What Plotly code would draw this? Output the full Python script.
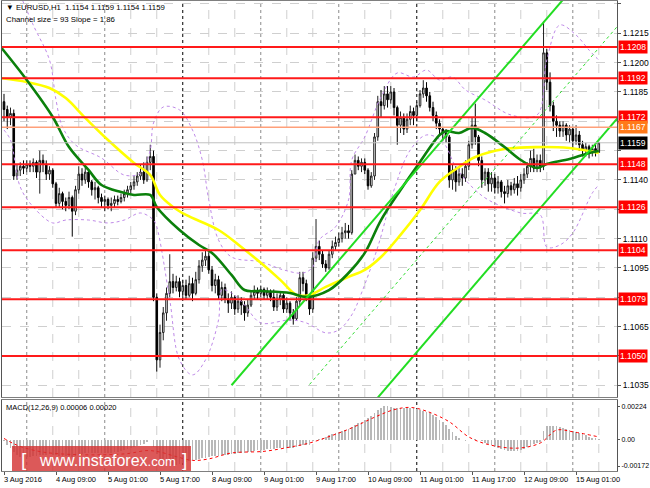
import plotly.graph_objects as go

# ---------------- data ----------------
bar_index = list(range(184))

closes = [
    1.1176, 1.1172, 1.1174, 1.1142, 1.1145, 1.1147, 1.1146, 1.1148, 1.1147, 1.1149,
    1.1144, 1.1150, 1.1148, 1.1143, 1.1145, 1.1138, 1.1128, 1.1133, 1.1129, 1.1127,
    1.1131, 1.1124, 1.1135, 1.1143, 1.1140, 1.1144, 1.1139, 1.1135, 1.1136, 1.1131,
    1.1129, 1.1130, 1.1127, 1.1128, 1.1130, 1.1129, 1.1131, 1.1133, 1.1135, 1.1137,
    1.1139, 1.1142, 1.1144, 1.1140, 1.1149, 1.1152, 1.1080, 1.1048, 1.1062, 1.1072,
    1.1082, 1.1088, 1.1085, 1.1088, 1.1083, 1.1086, 1.1081, 1.1087, 1.1082, 1.1089,
    1.1096, 1.1099, 1.1101, 1.1094, 1.1086, 1.1089, 1.1081, 1.1085, 1.1079, 1.1077,
    1.1080, 1.1074, 1.1078, 1.1076, 1.1072, 1.1076, 1.1081, 1.1083, 1.1082, 1.1084,
    1.1081, 1.1083, 1.1080, 1.1075, 1.1079, 1.1081, 1.1074, 1.1077, 1.1072, 1.1069,
    1.1078, 1.1090, 1.1087, 1.1080, 1.1074, 1.1100, 1.1106, 1.1102, 1.1097, 1.1095,
    1.1102, 1.1106, 1.1108, 1.1110, 1.1113, 1.1114, 1.1113, 1.1143, 1.1150, 1.1147,
    1.1149, 1.1145, 1.1137, 1.1142, 1.1162, 1.1180, 1.1178, 1.1184, 1.1181, 1.1185,
    1.1177, 1.1168, 1.1172, 1.1166, 1.1171, 1.1175, 1.1173, 1.1178, 1.1184, 1.1187,
    1.1183, 1.1177, 1.1173, 1.1169, 1.1166, 1.1164, 1.1162, 1.1140, 1.1145, 1.1139,
    1.1143, 1.1141, 1.1147, 1.1158, 1.1168, 1.1162, 1.1150, 1.1140, 1.1144, 1.1138,
    1.1141, 1.1136, 1.1139, 1.1134, 1.1133, 1.1137, 1.1135, 1.1138, 1.1136, 1.1140,
    1.1143, 1.1147, 1.1151, 1.1146, 1.1150, 1.1147, 1.1205, 1.1190, 1.1178, 1.1170,
    1.1168, 1.1165, 1.1168, 1.1163, 1.1166, 1.1160, 1.1163, 1.1158, 1.1155, 1.1157,
    1.1154, 1.1156, 1.1154, 1.1159,
]

highs = [
    1.1184, 1.1178, 1.1177, 1.1176, 1.1148, 1.1149, 1.1150, 1.1150, 1.1150, 1.1151,
    1.1150, 1.1155, 1.1153, 1.1150, 1.1147, 1.1146, 1.1139, 1.1136, 1.1134, 1.1131,
    1.1134, 1.1132, 1.1137, 1.1147, 1.1146, 1.1147, 1.1145, 1.1140, 1.1139, 1.1137,
    1.1133, 1.1132, 1.1131, 1.1131, 1.1132, 1.1132, 1.1133, 1.1135, 1.1137, 1.1139,
    1.1142, 1.1144, 1.1148, 1.1149, 1.1152, 1.1158, 1.1155, 1.1082, 1.1066, 1.1075,
    1.1085, 1.1102, 1.1092, 1.1091, 1.1090, 1.1089, 1.1089, 1.1091, 1.1090, 1.1093,
    1.1099, 1.1103, 1.1104, 1.1103, 1.1096, 1.1092, 1.1091, 1.1088, 1.1087, 1.1082,
    1.1083, 1.1081, 1.1081, 1.1080, 1.1078, 1.1079, 1.1083, 1.1086, 1.1085, 1.1086,
    1.1085, 1.1085, 1.1084, 1.1084, 1.1082, 1.1083, 1.1082, 1.1080, 1.1078, 1.1074,
    1.1080, 1.1093, 1.1093, 1.1089, 1.1081, 1.1103, 1.1120, 1.1109, 1.1104, 1.1099,
    1.1104, 1.1109, 1.1111, 1.1113, 1.1116, 1.1118, 1.1117, 1.1145, 1.1153, 1.1152,
    1.1151, 1.1151, 1.1146, 1.1144, 1.1164, 1.1183, 1.1186, 1.1188, 1.1188, 1.1188,
    1.1187, 1.1178, 1.1175, 1.1174, 1.1174, 1.1178, 1.1177, 1.1180, 1.1186, 1.1191,
    1.1190, 1.1185, 1.1180, 1.1175, 1.1171, 1.1167, 1.1166, 1.1163, 1.1148, 1.1147,
    1.1147, 1.1146, 1.1150, 1.1160, 1.1172, 1.1179, 1.1163, 1.1152, 1.1146, 1.1146,
    1.1144, 1.1143, 1.1142, 1.1140, 1.1137, 1.1140, 1.1139, 1.1141, 1.1142, 1.1143,
    1.1146, 1.1149, 1.1155, 1.1156, 1.1153, 1.1153, 1.1221, 1.1207, 1.1195, 1.1180,
    1.1173, 1.1170, 1.1170, 1.1169, 1.1168, 1.1167, 1.1168, 1.1165, 1.1160, 1.1159,
    1.1158, 1.1158, 1.1158, 1.1159,
]

lows = [
    1.1170, 1.1166, 1.1168, 1.1140, 1.1140, 1.1142, 1.1143, 1.1144, 1.1144, 1.1144,
    1.1141, 1.1133, 1.1144, 1.1140, 1.1140, 1.1136, 1.1126, 1.1126, 1.1125, 1.1124,
    1.1125, 1.1111, 1.1122, 1.1133, 1.1137, 1.1138, 1.1136, 1.1132, 1.1130, 1.1128,
    1.1126, 1.1124, 1.1125, 1.1124, 1.1126, 1.1127, 1.1128, 1.1129, 1.1131, 1.1133,
    1.1135, 1.1137, 1.1140, 1.1138, 1.1139, 1.1145, 1.1078, 1.1042, 1.1044, 1.1058,
    1.1068, 1.1080, 1.1082, 1.1083, 1.1080, 1.1079, 1.1079, 1.1080, 1.1078, 1.1081,
    1.1087, 1.1093, 1.1096, 1.1092, 1.1083, 1.1082, 1.1079, 1.1078, 1.1077, 1.1072,
    1.1074, 1.1071, 1.1072, 1.1071, 1.1068, 1.1070, 1.1075, 1.1079, 1.1079, 1.1080,
    1.1079, 1.1079, 1.1078, 1.1073, 1.1073, 1.1076, 1.1072, 1.1072, 1.1068, 1.1066,
    1.1068, 1.1076, 1.1083, 1.1078, 1.1071, 1.1072, 1.1098, 1.1099, 1.1095, 1.1093,
    1.1094, 1.1100, 1.1104, 1.1106, 1.1108, 1.1110, 1.1110, 1.1112, 1.1143, 1.1145,
    1.1144, 1.1143, 1.1135, 1.1136, 1.1140, 1.1160, 1.1172, 1.1176, 1.1177, 1.1179,
    1.1173, 1.1158, 1.1164, 1.1163, 1.1164, 1.1168, 1.1168, 1.1170, 1.1177, 1.1182,
    1.1180, 1.1175, 1.1170, 1.1166, 1.1163, 1.1160, 1.1159, 1.1136, 1.1135, 1.1134,
    1.1137, 1.1137, 1.1139, 1.1145, 1.1156, 1.1158, 1.1147, 1.1136, 1.1137, 1.1134,
    1.1134, 1.1133, 1.1133, 1.1131, 1.1128, 1.1131, 1.1132, 1.1133, 1.1132, 1.1134,
    1.1138, 1.1141, 1.1144, 1.1144, 1.1144, 1.1144, 1.1145, 1.1186, 1.1175, 1.1165,
    1.1162, 1.1162, 1.1162, 1.1160, 1.1159, 1.1156, 1.1158, 1.1155, 1.1152, 1.1152,
    1.1151, 1.1152, 1.1152, 1.1154,
]

first_open = 1.1180
opens = [first_open] + closes[:-1]   # H1 forex: each bar opens at the previous close

# MACD histogram, in units of 0.00001
macd_hist_e5 = [
    -10, -30, -50, -80, -100, -110, -115, -115, -112, -108,
    -105, -100, -97, -96, -95, -97, -102, -104, -106, -108,
    -107, -110, -105, -98, -94, -88, -86, -86, -85, -86,
    -87, -86, -85, -83, -80, -77, -72, -66, -60, -53,
    -46, -38, -30, -24, -12, 2, -45, -95, -125, -145,
    -155, -160, -163, -163, -158, -150, -148, -142, -135, -130,
    -125, -120, -116, -110, -108, -105, -104, -100, -99, -97,
    -94, -92, -89, -87, -86, -82, -77, -72, -68, -65,
    -63, -60, -58, -58, -56, -53, -53, -51, -52, -52,
    -48, -38, -32, -31, -32, -10, 0, 8, 15, 22,
    30, 38, 45, 52, 60, 66, 72, 86, 100, 112,
    122, 132, 145, 160, 178, 195, 210, 224, 222, 218,
    214, 212, 210, 210, 212, 213, 210, 205, 200, 192,
    185, 175, 162, 150, 135, 118, 100, 75, 50, 25,
    10, 0, -5, -2, 2, 5, -2, -10, -18, -26,
    -35, -42, -50, -58, -65, -72, -75, -75, -72, -66,
    -58, -48, -38, -28, -20, -12, 60, 90, 95, 93,
    90, 86, 80, 74, 68, 60, 52, 45, 38, 30,
    22, 15, 10, 6,
]
macd_hist = [v * 1e-5 for v in macd_hist_e5]

signal_x = [0, 3, 6, 12, 20, 30, 38, 44, 48, 53, 58, 63, 70, 80, 88, 94, 101, 107,
            114, 120, 125, 130, 137, 143, 149, 158, 165, 170, 175, 183]
signal_e5 = [10, -25, -50, -80, -95, -98, -90, -70, -80, -110, -135, -125, -86, -75,
             -47, -20, 30, 80, 150, 200, 215, 190, 120, 20, -30, -54, -20, 65, 54, 20]
signal_y = [v * 1e-5 for v in signal_e5]

green_ma_x = [-1, 7, 15, 20, 26, 30, 36, 40, 45, 47, 54, 60, 64, 70, 74, 79, 88, 93,
              100, 106, 111, 116, 122, 128, 134, 136, 140, 144, 148, 154, 159, 164,
              167, 174, 179, 183]
green_ma_y = [1.12080, 1.11911, 1.11722, 1.11568, 1.11451, 1.11374, 1.11338, 1.11323,
              1.11323, 1.11262, 1.11144, 1.11067, 1.11027, 1.10914, 1.10837, 1.10832,
              1.10822, 1.10802, 1.10837, 1.10924, 1.11027, 1.11195, 1.11349, 1.11492,
              1.11630, 1.11650, 1.11640, 1.11666, 1.11640, 1.11568, 1.11502, 1.11461,
              1.11482, 1.11507, 1.11533, 1.11548]

yellow_ma_x = [-1, 7, 14, 19, 25, 32, 40, 45, 48, 52, 56, 66, 73, 79, 85, 90, 94, 99,
               106, 111, 116, 122, 128, 134, 140, 145, 154, 164, 174, 183]
yellow_ma_y = [1.11921, 1.11901, 1.11870, 1.11819, 1.11717, 1.11604, 1.11487, 1.11425,
               1.11323, 1.11262, 1.11221, 1.11144, 1.11057, 1.10976, 1.10889, 1.10812,
               1.10812, 1.10853, 1.10904, 1.10940, 1.11006, 1.11119, 1.11246, 1.11390,
               1.11466, 1.11517, 1.11558, 1.11568, 1.11563, 1.11538]

band_up_x = [5, 9, 14, 16, 18, 22, 30, 37, 42, 45, 46, 49, 54, 58, 61, 63, 66, 70, 79,
             86, 92, 95, 97, 102, 106, 107, 111, 116, 121, 126, 130, 134, 138, 142,
             148, 156, 164, 167, 171, 176, 180, 183]
band_up_y = [1.12346, 1.12192, 1.12013, 1.11809, 1.11671, 1.11579, 1.11512, 1.11425,
             1.11435, 1.11553, 1.11691, 1.11773, 1.11758, 1.11655, 1.11502, 1.11298,
             1.11093, 1.11006, 1.10981, 1.10940, 1.10924, 1.10955, 1.11093, 1.11160,
             1.11298, 1.11502, 1.11620, 1.11824, 1.11947, 1.11926, 1.11962, 1.11911,
             1.11926, 1.11860, 1.11809, 1.11732, 1.11732, 1.12013, 1.12192, 1.12141,
             1.12064, 1.12013]

band_lo_x = [0, 2, 5, 9, 15, 19, 26, 32, 37, 42, 46, 47, 51, 54, 58, 62, 66, 67, 70,
             74, 79, 88, 93, 99, 103, 107, 110, 115, 120, 125, 130, 135, 139, 144,
             149, 159, 165, 167, 171, 175, 181, 183]
band_lo_y = [1.11655, 1.11604, 1.11364, 1.11262, 1.11180, 1.11195, 1.11195, 1.11180,
             1.11195, 1.11231, 1.11195, 1.11160, 1.10787, 1.10480, 1.10403, 1.10480,
             1.10684, 1.10837, 1.10822, 1.10761, 1.10669, 1.10684, 1.10669, 1.10618,
             1.10633, 1.10710, 1.10822, 1.11057, 1.11349, 1.11553, 1.11630, 1.11594,
             1.11466, 1.11364, 1.11298, 1.11231, 1.11221, 1.11057, 1.11067, 1.11129,
             1.11333, 1.11374]

chan_up_x = [70, 190]
chan_up_y = [1.1035, 1.1267]
chan_mid_x = [94, 190]
chan_mid_y = [1.10354, 1.1221]
chan_lo_x = [110, 190]
chan_lo_y = [1.1019, 1.1174]

levels_red = [1.1208, 1.1192, 1.1172, 1.1148, 1.1126, 1.1104, 1.1079, 1.1050]
level_orange = 1.1167
level_bid = 1.1159

price_ticks = [1.1035, 1.1050, 1.1065, 1.1080, 1.1095, 1.1110, 1.1125, 1.1140,
               1.1155, 1.1170, 1.1185, 1.1200, 1.1215, 1.1230]
# tick labels hidden behind the level boxes in the reference are left blank
price_tick_text = ["1.1035", "", "1.1065", "", "1.1095", "1.1110", "", "1.1140",
                   "", "", "1.1185", "1.1200", "1.1215", "1.1230"]
macd_ticks = [0.00224, 0.0, -0.00172]
macd_tick_text = ["0.00224", "0.00", "-0.00172"]

x_label_pos = [0, 16, 32, 48, 64, 80, 96, 112, 128, 144, 160, 176]
x_label_text = ["3 Aug 2016", "4 Aug 09:00", "5 Aug 01:00", "5 Aug 17:00",
                "8 Aug 09:00", "9 Aug 01:00", "9 Aug 17:00", "10 Aug 09:00",
                "11 Aug 01:00", "11 Aug 17:00", "12 Aug 09:00", "15 Aug 01:00"]

grid_x = [7, 15, 23, 31, 39, 47, 55, 63, 71, 79, 87, 95, 103, 111, 119, 127, 135,
          143, 151, 159, 167, 175, 183]
day_start_x = [7, 31, 79, 103, 151, 175]
separator_x = [55, 127]

title_line1 = "▼ EURUSD,H1  1.1154 1.1159 1.1154 1.1159"
title_line2 = "Channel size = 93 Slope = 1.86"
macd_title = "MACD(12,26,9) 0.00006 0.00020"

# ---------------- figure ----------------
FONT = "Liberation Sans, Arial, sans-serif"
W, H = 650, 488
ML, MR, MT, MB = 2, 33, 1, 17
PW, PH = W - ML - MR, H - MT - MB


def px_x(px):
    return (px - ML) / PW


def px_y(py):
    return (H - MB - py) / PH


fig = go.Figure()

fig.add_trace(go.Candlestick(
    x=bar_index, open=opens, high=highs, low=lows, close=closes,
    increasing=dict(line=dict(color="#202020", width=1), fillcolor="white"),
    decreasing=dict(line=dict(color="#000000", width=1), fillcolor="black"),
    whiskerwidth=0, xaxis="x", yaxis="y", showlegend=False, hoverinfo="skip"))

for bx, by in ((band_up_x, band_up_y), (band_lo_x, band_lo_y)):
    fig.add_trace(go.Scatter(x=bx, y=by, mode="lines", xaxis="x", yaxis="y",
                             line=dict(color="#bf8ae8", width=1, dash="dot", shape="spline"),
                             showlegend=False, hoverinfo="skip"))

fig.add_trace(go.Scatter(x=yellow_ma_x, y=yellow_ma_y, mode="lines", xaxis="x", yaxis="y",
                         line=dict(color="#ffff00", width=2.6, shape="spline"),
                         showlegend=False, hoverinfo="skip"))
fig.add_trace(go.Scatter(x=green_ma_x, y=green_ma_y, mode="lines", xaxis="x", yaxis="y",
                         line=dict(color="#0b800b", width=2.6, shape="spline"),
                         showlegend=False, hoverinfo="skip"))

fig.add_trace(go.Scatter(x=chan_mid_x, y=chan_mid_y, mode="lines", xaxis="x", yaxis="y",
                         line=dict(color="#33dd33", width=1, dash="dot"),
                         showlegend=False, hoverinfo="skip"))
for cx, cy in ((chan_up_x, chan_up_y), (chan_lo_x, chan_lo_y)):
    fig.add_trace(go.Scatter(x=cx, y=cy, mode="lines", xaxis="x", yaxis="y",
                             line=dict(color="#22dd22", width=2),
                             showlegend=False, hoverinfo="skip"))

# MACD panel
fig.add_trace(go.Bar(x=bar_index, y=macd_hist, xaxis="x2", yaxis="y2",
                     marker=dict(color="#b8b8b8", line=dict(width=0)), width=0.5,
                     showlegend=False, hoverinfo="skip"))
fig.add_trace(go.Scatter(x=signal_x, y=signal_y, mode="lines", xaxis="x2", yaxis="y2",
                         line=dict(color="#ff0000", width=1, dash="dot", shape="spline"),
                         showlegend=False, hoverinfo="skip"))

shapes = []
for gx in grid_x:
    if gx in separator_x:
        col, dash = "#000000", "dot"
    elif gx in day_start_x:
        col, dash = "#8a8a8a", "dot"
    else:
        col, dash = "#cfcfcf", "dash"
    for xr, yr in (("x", "y domain"), ("x2", "y2 domain")):
        shapes.append(dict(type="line", xref=xr, yref=yr, x0=gx, x1=gx, y0=0, y1=1,
                           line=dict(color=col, width=1, dash=dash), layer="below"))

shapes.append(dict(type="line", xref="x domain", yref="y", x0=0, x1=1,
                   y0=level_orange, y1=level_orange,
                   line=dict(color="#ffa07a", width=1.5), layer="above"))
shapes.append(dict(type="line", xref="x domain", yref="y", x0=0, x1=1,
                   y0=level_bid, y1=level_bid,
                   line=dict(color="#c0c0c0", width=1), layer="above"))
for lv in levels_red:
    shapes.append(dict(type="line", xref="x domain", yref="y", x0=0, x1=1, y0=lv, y1=lv,
                       line=dict(color="#ff1a1a", width=2), layer="above"))

# watermark box
shapes.append(dict(type="rect", xref="paper", yref="paper",
                   x0=px_x(12), x1=px_x(191), y0=px_y(471), y1=px_y(446),
                   fillcolor="rgba(212,52,52,0.82)", line=dict(width=0), layer="above"))

annotations = []
annotations.append(dict(xref="paper", yref="paper", x=px_x(4), y=px_y(7), text=title_line1,
                        showarrow=False, xanchor="left", yanchor="middle",
                        font=dict(family=FONT, size=7.8, color="#000")))
annotations.append(dict(xref="paper", yref="paper", x=px_x(4), y=px_y(19), text=title_line2,
                        showarrow=False, xanchor="left", yanchor="middle",
                        font=dict(family=FONT, size=7.8, color="#000")))
annotations.append(dict(xref="paper", yref="paper", x=px_x(4), y=px_y(407), text=macd_title,
                        showarrow=False, xanchor="left", yanchor="middle",
                        font=dict(family=FONT, size=7.5, color="#000")))

for pos, txt in zip(x_label_pos, x_label_text):
    annotations.append(dict(xref="x2", yref="paper", x=pos, y=px_y(479), text=txt,
                            showarrow=False, xanchor="left", yanchor="middle", xshift=-2,
                            font=dict(family=FONT, size=7.5, color="#000")))


def level_label(val, bg, fg="white"):
    return dict(xref="paper", yref="y", x=1, y=val, text=f"{val:.4f}", showarrow=False,
                xanchor="left", yanchor="middle", xshift=1, bgcolor=bg, borderpad=1,
                font=dict(family=FONT, size=8.5, color=fg))


for lv in levels_red:
    annotations.append(level_label(lv, "#ff0000"))
annotations.append(level_label(level_orange, "#ff7a1a"))
annotations.append(level_label(level_bid, "#000000"))

annotations.append(dict(xref="paper", yref="paper", x=px_x(24), y=px_y(459), text="[",
                        showarrow=False, xanchor="center", yanchor="middle",
                        font=dict(family=FONT, size=19, color="white")))
annotations.append(dict(xref="paper", yref="paper", x=px_x(184), y=px_y(459), text="]",
                        showarrow=False, xanchor="center", yanchor="middle",
                        font=dict(family=FONT, size=19, color="white")))
annotations.append(dict(xref="paper", yref="paper", x=px_x(107), y=px_y(460),
                        text="www.instaforex<span style='font-size:13px'>.com</span>",
                        showarrow=False, xanchor="center", yanchor="middle",
                        font=dict(family=FONT, size=16, color="white")))

main_bottom = px_y(397)
macd_top = px_y(400)

fig.update_layout(
    width=W, height=H,
    margin=dict(l=ML, r=MR, t=MT, b=MB),
    paper_bgcolor="white", plot_bgcolor="white",
    font=dict(family=FONT, size=8, color="#000"),
    showlegend=False, bargap=0,
    xaxis=dict(domain=[0, 1], range=[-0.615, 188.6], anchor="y",
               showticklabels=False, showgrid=False, zeroline=False,
               showline=True, mirror=True, linecolor="#7f7f7f", linewidth=1,
               rangeslider=dict(visible=False), fixedrange=True),
    xaxis2=dict(domain=[0, 1], range=[-0.615, 188.6], anchor="y2", matches="x",
                tickvals=x_label_pos, showticklabels=False, ticks="outside", ticklen=3,
                tickcolor="#555", showgrid=False, zeroline=False,
                showline=True, mirror=True, linecolor="#7f7f7f", linewidth=1),
    yaxis=dict(domain=[main_bottom, 1], range=[1.10290, 1.12315], side="right",
               anchor="x", tickvals=price_ticks, ticktext=price_tick_text,
               ticks="outside", ticklen=3, tickcolor="#555",
               tickfont=dict(family=FONT, size=8.5, color="#000"), automargin=False,
               showgrid=True, gridcolor="#cfcfcf", griddash="dash", gridwidth=1,
               zeroline=False, showline=True, mirror=True, linecolor="#555", linewidth=1),
    yaxis2=dict(domain=[0, macd_top], range=[-0.00205, 0.00264], side="right",
                anchor="x2", tickvals=macd_ticks, ticktext=macd_tick_text,
                ticks="outside", ticklen=2, tickcolor="#555",
                tickfont=dict(family=FONT, size=7, color="#000"), automargin=False,
                showgrid=False, zeroline=False,
                showline=True, mirror=True, linecolor="#555", linewidth=1),
    shapes=shapes,
    annotations=annotations,
)

fig.write_html("out.html",
               config={"displayModeBar": False, "staticPlot": True},
               post_script="document.body.style.margin='0px';"
                           "document.body.style.overflow='hidden';")
